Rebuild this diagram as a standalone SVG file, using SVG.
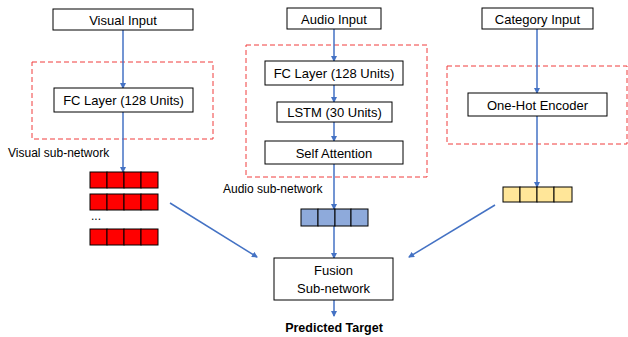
<svg xmlns="http://www.w3.org/2000/svg" width="628" height="337" viewBox="0 0 628 337">
<style>
.box{fill:#fff;stroke:#000;stroke-width:1}
.dash{fill:none;stroke:#f03c3c;stroke-width:1;stroke-dasharray:5,3}
.t{font-family:"Liberation Sans",Arial,sans-serif;font-size:13px;fill:#000;text-anchor:middle}
.lbl{font-family:"Liberation Sans",Arial,sans-serif;font-size:12px;fill:#000}
.c{stroke:#4472c4;stroke-width:1.5;fill:none;marker-end:url(#ah)}
.red rect{fill:#ff0000;stroke:#000;stroke-width:1}
.blue rect{fill:#8eaadb;stroke:#000;stroke-width:1}
.yel rect{fill:#ffe699;stroke:#000;stroke-width:1}
</style>
<defs>
<marker id="ah" markerWidth="6" markerHeight="6" refX="5" refY="3" orient="auto" markerUnits="userSpaceOnUse">
<path d="M0,0 L6,3 L0,6 z" fill="#4472c4"/>
</marker>
</defs>
<rect width="628" height="337" fill="#fff"/>
<g id="subnetworks">
<rect class="dash" x="32" y="62" width="181" height="77"/>
<rect class="dash" x="246" y="45" width="181" height="132"/>
<rect class="dash" x="447" y="66" width="180" height="78"/>
</g>
<g id="connectors">
<line class="c" x1="123" y1="30" x2="123" y2="88"/>
<line class="c" x1="123" y1="112" x2="123" y2="172"/>
<line class="c" x1="334" y1="29" x2="334" y2="61"/>
<line class="c" x1="334" y1="85" x2="334" y2="102"/>
<line class="c" x1="334" y1="122" x2="334" y2="141"/>
<line class="c" x1="334" y1="164" x2="334" y2="209"/>
<line class="c" x1="334" y1="209" x2="334" y2="258"/>
<line class="c" x1="537" y1="29" x2="537" y2="93"/>
<line class="c" x1="537" y1="116" x2="537" y2="187"/>
<line class="c" x1="170" y1="203" x2="257" y2="257"/>
<line class="c" x1="495" y1="205" x2="409" y2="257"/>
<line class="c" x1="334" y1="300" x2="334" y2="316"/>
</g>
<g id="visual-input"><rect class="box" x="53" y="9" width="140" height="21"/><text class="t" x="123" y="24.5">Visual Input</text></g>
<g id="visual-fc"><rect class="box" x="54" y="88" width="139" height="24"/><text class="t" x="123.5" y="105">FC Layer (128 Units)</text></g>
<g id="audio-input"><rect class="box" x="287" y="8" width="94" height="21"/><text class="t" x="334" y="23.5">Audio Input</text></g>
<g id="audio-fc"><rect class="box" x="265" y="61" width="138" height="24"/><text class="t" x="334" y="78">FC Layer (128 Units)</text></g>
<g id="audio-lstm"><rect class="box" x="277" y="102" width="115" height="20"/><text class="t" x="334.5" y="117">LSTM (30 Units)</text></g>
<g id="audio-attn"><rect class="box" x="265" y="141" width="138" height="23"/><text class="t" x="334" y="157.5">Self Attention</text></g>
<g id="category-input"><rect class="box" x="482" y="8" width="111" height="21"/><text class="t" x="537.5" y="23.5">Category Input</text></g>
<g id="onehot"><rect class="box" x="468" y="93" width="139" height="23"/><text class="t" x="537.5" y="109.5">One-Hot Encoder</text></g>
<g id="fusion"><rect class="box" x="274" y="258" width="119" height="42"/><text class="t" x="333.5" y="275">Fusion</text><text class="t" x="333.5" y="292.5">Sub-network</text></g>
<g id="labels">
<text class="lbl" x="8" y="157">Visual sub-network</text>
<text class="lbl" x="223" y="193">Audio sub-network</text>
<text class="t" x="334" y="332" style="font-weight:bold;font-size:12.5px">Predicted Target</text>
</g>
<g id="visual-vectors" class="red">
<rect x="90" y="172" width="17" height="16"/><rect x="107" y="172" width="17" height="16"/><rect x="124" y="172" width="17" height="16"/><rect x="141" y="172" width="17" height="16"/>
<rect x="90" y="194" width="17" height="16"/><rect x="107" y="194" width="17" height="16"/><rect x="124" y="194" width="17" height="16"/><rect x="141" y="194" width="17" height="16"/>
<rect x="90" y="229" width="17" height="16"/><rect x="107" y="229" width="17" height="16"/><rect x="124" y="229" width="17" height="16"/><rect x="141" y="229" width="17" height="16"/>
<text class="lbl" x="91" y="220">...</text>
</g>
<g id="audio-vector" class="blue">
<rect x="301" y="209" width="17" height="17"/><rect x="318" y="209" width="17" height="17"/><rect x="335" y="209" width="16" height="17"/><rect x="351" y="209" width="17" height="17"/>
</g>
<g id="category-vector" class="yel">
<rect x="503" y="187" width="17" height="15"/><rect x="520" y="187" width="17" height="15"/><rect x="537" y="187" width="17" height="15"/><rect x="554" y="187" width="18" height="15"/>
</g>
</svg>
